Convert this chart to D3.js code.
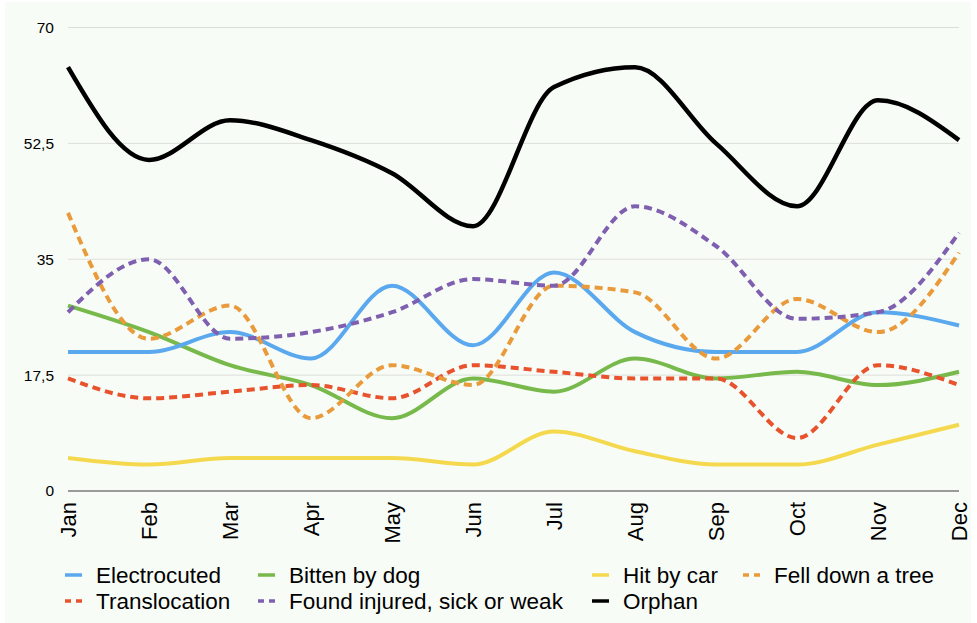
<!DOCTYPE html>
<html>
<head>
<meta charset="utf-8">
<script src="https://cdn.jsdelivr.net/npm/d3@7"></script>
<style>
  html, body { margin: 0; padding: 0; background: #ffffff; }
  svg { display: block; }
  text { font-family: "Liberation Sans", Arial, Helvetica, sans-serif; fill: #000; }
</style>
</head>
<body>
<svg id="chart" width="977" height="623"></svg>
<script>
// Monthly counts per cause
const months = ["Jan", "Feb", "Mar", "Apr", "May", "Jun", "Jul", "Aug", "Sep", "Oct", "Nov", "Dec"];
const electrocuted = [21, 21, 24, 20, 31, 22, 33, 24, 21, 21, 27, 25];
const bittenByDog  = [28, 24, 19, 16, 11, 17, 15, 20, 17, 18, 16, 18];
const hitByCar     = [5, 4, 5, 5, 5, 4, 9, 6, 4, 4, 7, 10];
const fellDownTree = [42, 23, 28, 11, 19, 16, 31, 30, 20, 29, 24, 36];
const translocation = [17, 14, 15, 16, 14, 19, 18, 17, 17, 8, 19, 16];
const foundInjured = [27, 35, 23, 24, 27, 32, 31, 43, 37, 26, 27, 39];
const orphan       = [64, 50, 56, 53, 48, 40, 61, 64, 52.5, 43, 59, 53];
const yTicks = [0, 17.5, 35, 52.5, 70];

const series = [
  { name: "Electrocuted", values: electrocuted, color: "#5aa8ee", dash: null, width: 4 },
  { name: "Bitten by dog", values: bittenByDog, color: "#77b94a", dash: null, width: 4 },
  { name: "Hit by car", values: hitByCar, color: "#f4d94e", dash: null, width: 4 },
  { name: "Fell down a tree", values: fellDownTree, color: "#e99a3b", dash: "8,5", width: 4 },
  { name: "Translocation", values: translocation, color: "#e8522c", dash: "8,5", width: 4 },
  { name: "Found injured, sick or weak", values: foundInjured, color: "#7f5fb0", dash: "8,5", width: 4 },
  { name: "Orphan", values: orphan, color: "#000000", dash: null, width: 4.5 }
];

const svg = d3.select("#chart");
const plotLeft = 68, plotRight = 959, plotTop = 27.5, plotBottom = 491;

// panel background
svg.append("rect")
  .attr("x", 5).attr("y", 2)
  .attr("width", 966).attr("height", 621)
  .attr("fill", "#f8fcf6");

const x = d3.scalePoint().domain(months).range([plotLeft, plotRight]);
const y = d3.scaleLinear().domain([0, 70]).range([plotBottom, plotTop]);

// horizontal gridlines and value labels
const fmt = v => String(v).replace(".", ",");
svg.append("g")
  .selectAll("line")
  .data(yTicks.filter(v => v > 0))
  .join("line")
  .attr("x1", plotLeft).attr("x2", plotRight)
  .attr("y1", d => y(d)).attr("y2", d => y(d))
  .attr("stroke", "#dcdedb").attr("stroke-width", 1);

svg.append("g")
  .selectAll("text")
  .data(yTicks)
  .join("text")
  .attr("x", 54)
  .attr("y", d => y(d))
  .attr("dy", "0.35em")
  .attr("text-anchor", "end")
  .style("font-size", "15.5px")
  .text(fmt);

// baseline axis
svg.append("line")
  .attr("x1", plotLeft).attr("x2", plotRight)
  .attr("y1", y(0)).attr("y2", y(0))
  .attr("stroke", "#3a3a3a").attr("stroke-width", 1.2);

// rotated month labels
svg.append("g")
  .selectAll("text")
  .data(months)
  .join("text")
  .attr("transform", d => `translate(${x(d)},${y(0) + 11}) rotate(-90)`)
  .attr("dy", "0.36em")
  .attr("text-anchor", "end")
  .style("font-size", "22px")
  .text(d => d);

// smoothed series lines
const line = d3.line()
  .x((d, i) => x(months[i]))
  .y(d => y(d))
  .curve(d3.curveMonotoneX);

const drawOrder = ["Hit by car", "Bitten by dog", "Translocation", "Electrocuted", "Fell down a tree", "Found injured, sick or weak", "Orphan"];
drawOrder.forEach(n => {
  const s = series.find(d => d.name === n);
  svg.append("path")
    .datum(s.values)
    .attr("d", line)
    .attr("fill", "none")
    .attr("stroke", s.color)
    .attr("stroke-width", s.width)
    .attr("stroke-dasharray", s.dash)
    .attr("stroke-linejoin", "round");
});

// legend, two rows
const legendPos = [
  { name: "Electrocuted", x: 65, y: 575 },
  { name: "Bitten by dog", x: 258, y: 575 },
  { name: "Hit by car", x: 592, y: 575 },
  { name: "Fell down a tree", x: 743, y: 575 },
  { name: "Translocation", x: 65, y: 601 },
  { name: "Found injured, sick or weak", x: 258, y: 601 },
  { name: "Orphan", x: 592, y: 601 }
];
const lg = svg.append("g");
legendPos.forEach(p => {
  const s = series.find(d => d.name === p.name);
  lg.append("line")
    .attr("x1", p.x).attr("x2", p.x + 17)
    .attr("y1", p.y).attr("y2", p.y)
    .attr("stroke", s.color)
    .attr("stroke-width", 3.5)
    .attr("stroke-dasharray", s.dash ? "6,5" : null);
  lg.append("text")
    .attr("x", p.x + 31)
    .attr("y", p.y)
    .attr("dy", "0.36em")
    .style("font-size", "22.5px")
    .text(s.name);
});
</script>
</body>
</html>
